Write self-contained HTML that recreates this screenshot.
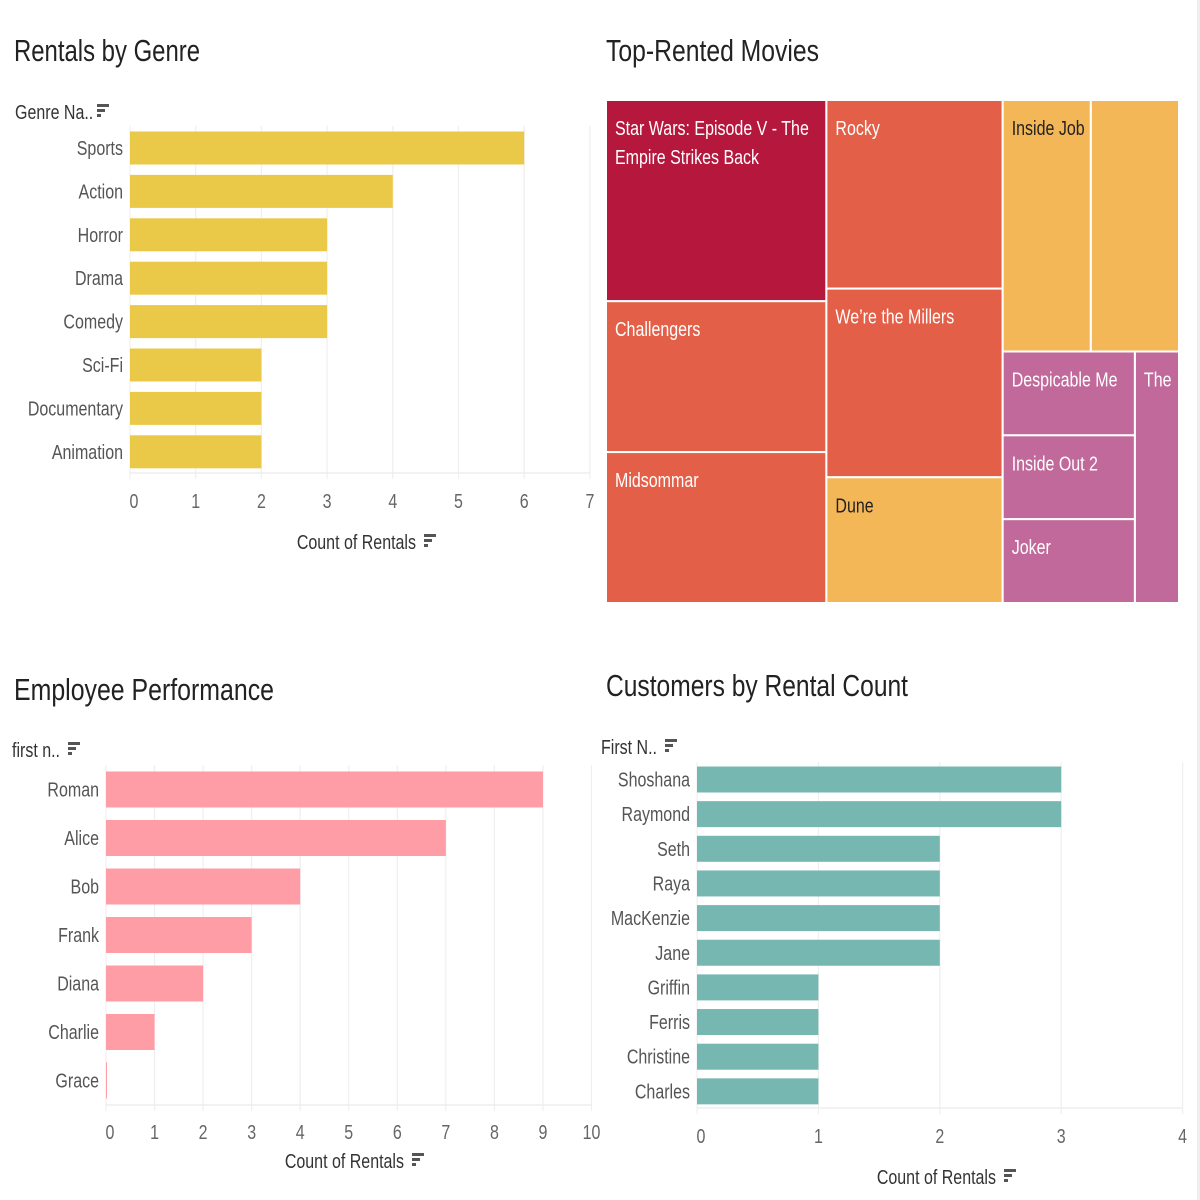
<!DOCTYPE html>
<html><head><meta charset="utf-8">
<style>
html,body{margin:0;padding:0;background:#fff;}
svg{display:block;font-family:"Liberation Sans",sans-serif;}
</style></head>
<body>
<svg id="root" width="1200" height="1200" viewBox="0 0 1200 1200">
<rect x="1197" y="0" width="3" height="1200" fill="#eeeeee"/>
</svg>
<script>
// ---- Data ----
const genreCategories = ["Sports","Action","Horror","Drama","Comedy","Sci-Fi","Documentary","Animation"];
const genreValues = [6,4,3,3,3,2,2,2];
const genreTicks = [0,1,2,3,4,5,6,7];

const employeeCategories = ["Roman","Alice","Bob","Frank","Diana","Charlie","Grace"];
const employeeValues = [9,7,4,3,2,1,0];
const employeeTicks = [0,1,2,3,4,5,6,7,8,9,10];

const customerCategories = ["Shoshana","Raymond","Seth","Raya","MacKenzie","Jane","Griffin","Ferris","Christine","Charles"];
const customerValues = [3,3,2,2,2,2,1,1,1,1];
const customerTicks = [0,1,2,3,4];

const movieNames = ["Star Wars: Episode V - The Empire Strikes Back","Challengers","Midsommar","Rocky","We\u2019re the Millers","Dune","Inside Job","","Despicable Me","Inside Out 2","Joker","The"];
const movieValues = [4,3,3,3,3,2,2,2,1,1,1,1];

const NS = "http://www.w3.org/2000/svg";
const root = document.getElementById('root');
const SX = 0.8;
function mk(tag, attrs, parent){
  const e = document.createElementNS(NS, tag);
  for (const k in attrs) e.setAttribute(k, attrs[k]);
  (parent||root).appendChild(e);
  return e;
}
function txt(s, attrs, parent){
  const a = Object.assign({}, attrs);
  const x = a.x, y = a.y; delete a.x; delete a.y;
  a.x = 0; a.y = 0;
  a.transform = 'translate(' + x + ',' + y + ') scale(' + SX + ',1)';
  const t = mk('text', a, parent); t.textContent = s; return t;
}
function sortIcon(x, y, parent){
  const g = mk('g', {}, parent);
  
  
  mk('rect',{x:x,y:y,width:12,height:3,fill:'#555'},g);
  mk('rect',{x:x,y:y+5,width:8,height:3,fill:'#555'},g);
  mk('rect',{x:x,y:y+10,width:4,height:3,fill:'#555'},g);
  return g;
}
function title(s, x, y, w, name){
  const t = mk('text',{x:x,y:y,'font-size':31,fill:'#222',textLength:w,lengthAdjust:'spacingAndGlyphs'});
  t.textContent = s;
  
  
}

function barChart(c){
  const g = mk('g',{});
  
  
  const xs = v => c.x0 + v * c.unit;
  const ys = i => c.firstCenter + i * c.pitch;
  const maxT = c.ticks[c.ticks.length-1];
  c.ticks.forEach(t=>{
    const l = mk('line',{x1:xs(t),x2:xs(t),y1:c.gridTop,y2:c.axisY+6,stroke:'#efefef','stroke-width':1.2},g);
    
    
    const tl = txt(String(t),{x:xs(t)+(t===0?4:0),y:c.tickY,'font-size':20,fill:'#666','text-anchor':'middle'},g);
    
    
  });
  const ax = mk('line',{x1:c.x0,x2:xs(maxT),y1:c.axisY,y2:c.axisY,stroke:'#eeeeee','stroke-width':1.5},g);
  
  
  c.cats.forEach((cat,i)=>{
    const v = c.vals[i];
    const r = mk('rect',{x:c.x0,y:ys(i)-c.barH/2,width:Math.max(v*c.unit,1),height:c.barH,fill:c.color},g);
    
    
    const l = txt(cat,{x:c.x0-7,y:ys(i)+7,'font-size':20,fill:'#555','text-anchor':'end'},g);
    
    
  });
  const at = txt('Count of Rentals',{x:c.axTitleX,y:c.axTitleY,'font-size':20,fill:'#333','text-anchor':'end'},g);
  
  
  sortIcon(c.axTitleX+8,c.axTitleY-15,g);
  const yh = txt(c.header,{x:c.hx,y:c.hy,'font-size':20,fill:'#333'},g);
  
  
  sortIcon(c.hx+c.hw+6,c.hy-15,g);
}

title('Rentals by Genre',14,61,186,'chart-title-genre');
title('Top-Rented Movies',606,61,213,'chart-title-movies');
title('Employee Performance',14,700,260,'chart-title-employee');
title('Customers by Rental Count',606,696,302,'chart-title-customers');

barChart({name:'genre-bar-chart',cats:genreCategories,vals:genreValues,ticks:genreTicks,
  x0:130,unit:65.7,firstCenter:148,pitch:43.4,barH:33,gridTop:126,axisY:473,tickY:508,
  axTitleX:416,axTitleY:549,color:'#ebc948',header:'Genre Na..',hx:15,hy:119,hw:76});
barChart({name:'employee-bar-chart',cats:employeeCategories,vals:employeeValues,ticks:employeeTicks,
  x0:106,unit:48.55,firstCenter:789.5,pitch:48.5,barH:36,gridTop:765,axisY:1105,tickY:1139,
  axTitleX:404,axTitleY:1168,color:'#ff9da7',header:'first n..',hx:12,hy:757,hw:50});
barChart({name:'customer-bar-chart',cats:customerCategories,vals:customerValues,ticks:customerTicks,
  x0:697,unit:121.4,firstCenter:779.5,pitch:34.65,barH:26,gridTop:762,axisY:1108,tickY:1143,
  axTitleX:996,axTitleY:1184,color:'#76b7b2',header:'First N..',hx:601,hy:754,hw:58});

// ---- Treemap ----
const TM = {x:606,y:100,w:573,h:503};
const tmLayout = {d:'h',c:[
  {d:'v',c:[0,1,2]},
  {d:'v',c:[3,4,5]},
  {d:'v',c:[{d:'h',c:[6,7]},{d:'h',c:[{d:'v',c:[8,9,10]},11]}]}
]};
const tmColor = v => v>=4?'#b5173d':v===3?'#e35f47':v===2?'#f4b757':'#c2699c';
const tmText = v => v===2?'#222':'#fff';
function sum(n){ return typeof n==='number' ? movieValues[n] : n.c.reduce((a,b)=>a+sum(b),0); }
const tg = mk('g',{});


function lay(n,x,y,w,h){
  if (typeof n==='number'){
    const v = movieValues[n];
    const r = mk('rect',{x:x,y:y,width:w,height:h,fill:tmColor(v),stroke:'#fff','stroke-width':2},tg);
    
    
    const name = movieNames[n];
    if (name){
      const lines = name.length>30 ? ['Star Wars: Episode V - The','Empire Strikes Back'] : [name];
      lines.forEach((ln,k)=>{
        const t = txt(ln,{x:x+9,y:y+35+k*29,'font-size':20,fill:tmText(v)},tg);
        
        
      });
    }
    return;
  }
  const tot = sum(n); let off = 0;
  n.c.forEach(ch=>{
    const f = sum(ch)/tot;
    if (n.d==='h'){ lay(ch,x+off,y,w*f,h); off += w*f; }
    else { lay(ch,x,y+off,w,h*f); off += h*f; }
  });
}
lay(tmLayout,TM.x,TM.y,TM.w,TM.h);
</script>
</body></html>
